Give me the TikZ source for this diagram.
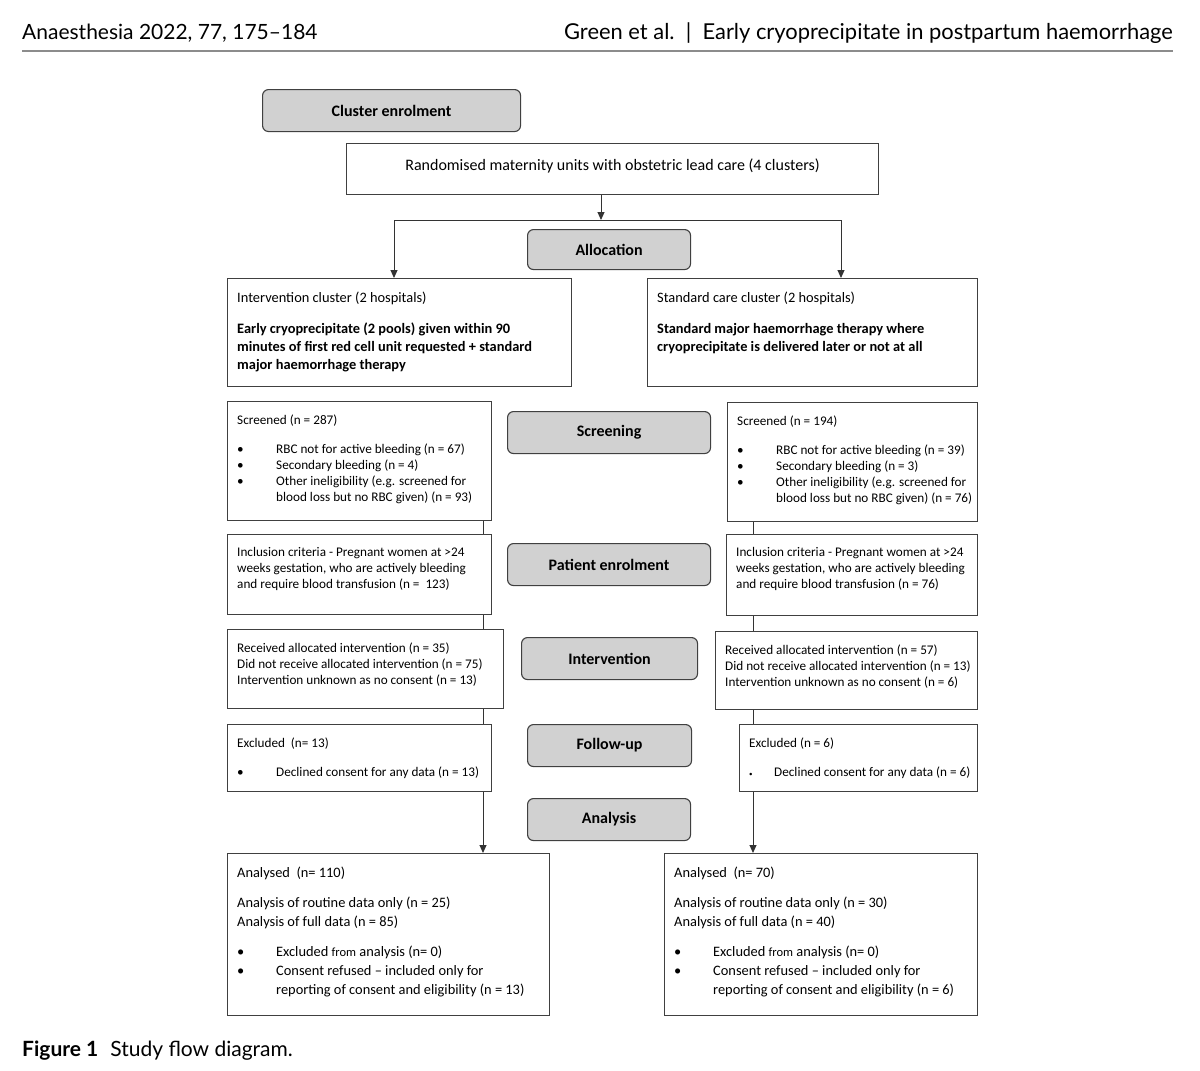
\documentclass[tikz,border=0pt]{standalone}
\usepackage{fontspec}
\setmainfont{Carlito}
\newfontfamily\headfont{Lato}
\usetikzlibrary{positioning, arrows.meta}

\newcommand{\bulitem}{\makebox[39pt][l]{\textbullet}}
\newcommand{\bulind}{\hspace*{39pt}}

\begin{document}
\begin{tikzpicture}
  [
    x=1pt, y=-1pt,
    Box/.style={draw=black!75, line width=1.1pt, anchor=north west, inner sep=0pt},
    Stage/.style={draw=black!75, line width=1.1pt, rounded corners=6pt, fill=black!18, anchor=north west, inner sep=0pt, font=\fontsize{16}{18}\selectfont\bfseries},
    Txt/.style={anchor=north west, align=left, inner xsep=10pt, inner ysep=13.5pt, font=\fontsize{13.2}{16}\selectfont},
    Arr/.style={draw=black!80, line width=1pt, -{Triangle[length=8pt, width=7pt]}},
    Line/.style={draw=black!80, line width=1pt}
  ]
  \useasboundingbox (0,0) rectangle (1200,1071);

  % Header and caption
  \node[font=\headfont\fontsize{21}{24}\selectfont, anchor=base west, inner sep=0pt] (journal) at (22,39) {Anaesthesia 2022, 77, 175–184};
  \node[font=\headfont\fontsize{21.9}{24}\selectfont, anchor=base east, inner sep=0pt] (running) at (1173,39) {Green et al.\ \ |\ \ Early cryoprecipitate in postpartum haemorrhage};
  \draw[black!45, line width=2pt] (22,51) -- (1173,51);
  \node[font=\headfont\fontsize{21}{24}\selectfont, anchor=base west, inner sep=0pt] (caption) at (22,1056) {\textbf{Figure 1}\hspace{12pt}Study flow diagram.};

  % Stages
  \node[Stage, minimum width=258, minimum height=42] (clusterenrol) at (262,89) {Cluster enrolment};
  \node[Stage, minimum width=163, minimum height=40] (allocation) at (527,229) {Allocation};
  \node[Stage, minimum width=203, minimum height=42] (screening) at (507,411) {Screening};
  \node[Stage, minimum width=203, minimum height=42] (patenrol) at (507,543) {Patient enrolment};
  \node[Stage, minimum width=176, minimum height=42] (intervention) at (521,637) {Intervention};
  \node[Stage, minimum width=164, minimum height=42] (followup) at (527,724) {Follow-up};
  \node[Stage, minimum width=163, minimum height=42] (analysis) at (527,798) {Analysis};

  % Randomisation
  \node[Box, minimum width=532, minimum height=51, font=\fontsize{16}{18}\selectfont] (randomised) at (346,143) {Randomised maternity units with obstetric lead care (4 clusters)\rule[-9pt]{0pt}{0pt}};

  % Clusters
  \node[Box, minimum width=344, minimum height=108, label={[Txt, font=\fontsize{14.4}{18}\selectfont]north west:{Intervention cluster (2 hospitals)\\[13pt]
    \textbf{Early cryoprecipitate (2 pools) given within 90}\\
    \textbf{minutes of first red cell unit requested + standard}\\
    \textbf{major haemorrhage therapy}}}] (intcluster) at (227,278) {};
  \node[Box, minimum width=330, minimum height=108, label={[Txt, font=\fontsize{14.4}{18}\selectfont]north west:{Standard care cluster (2 hospitals)\\[13pt]
    \textbf{Standard major haemorrhage therapy where}\\
    \textbf{cryoprecipitate is delivered later or not at all}}}] (stdcluster) at (647,278) {};

  % Left arm
  \node[Box, minimum width=264, minimum height=119, label={[Txt]north west:{Screened (n = 287)\\[13pt]
    \bulitem RBC not for active bleeding (n = 67)\\
    \bulitem Secondary bleeding (n = 4)\\
    \bulitem Other ineligibility (e.g. screened for\\
    \bulind blood loss but no RBC given) (n = 93)}}] (lscreen) at (227,401) {};
  \node[Box, minimum width=264, minimum height=80, label={[Txt]north west:{Inclusion criteria - Pregnant women at >24\\
    weeks gestation, who are actively bleeding\\
    and require blood transfusion (n =\ \ 123)}}] (lincl) at (227,534) {};
  \node[Box, minimum width=276, minimum height=79, label={[Txt]north west:{Received allocated intervention (n = 35)\\
    Did not receive allocated intervention (n = 75)\\
    Intervention unknown as no consent (n = 13)}}] (linterv) at (227,629) {};
  \node[Box, minimum width=264, minimum height=67, label={[Txt]north west:{Excluded\ \ (n= 13)\\[13pt]
    \bulitem Declined consent for any data (n = 13)}}] (lexcl) at (227,724) {};
  \node[Box, minimum width=322, minimum height=162, label={[Txt, font=\fontsize{14.4}{19}\selectfont]north west:{Analysed\ \ (n= 110)\\[11pt]
    Analysis of routine data only (n = 25)\\
    Analysis of full data (n = 85)\\[11pt]
    \bulitem Excluded {\fontsize{12.5}{19}\selectfont from} analysis (n= 0)\\
    \bulitem Consent refused – included only for\\
    \bulind reporting of consent and eligibility (n = 13)}}] (lanalysed) at (227,853) {};

  % Right arm
  \node[Box, minimum width=250, minimum height=119, label={[Txt]north west:{Screened (n = 194)\\[13pt]
    \bulitem RBC not for active bleeding (n = 39)\\
    \bulitem Secondary bleeding (n = 3)\\
    \bulitem Other ineligibility (e.g. screened for\\
    \bulind blood loss but no RBC given) (n = 76)}}] (rscreen) at (727,402) {};
  \node[Box, minimum width=251, minimum height=81, label={[Txt]north west:{Inclusion criteria - Pregnant women at >24\\
    weeks gestation, who are actively bleeding\\
    and require blood transfusion (n = 76)}}] (rincl) at (726,534) {};
  \node[Box, minimum width=262, minimum height=78, label={[Txt]north west:{Received allocated intervention (n = 57)\\
    Did not receive allocated intervention (n = 13)\\
    Intervention unknown as no consent (n = 6)}}] (rinterv) at (715,631) {};
  \node[Box, minimum width=238, minimum height=67, label={[Txt]north west:{Excluded (n = 6)\\[13pt]
    \makebox[25pt][l]{\scriptsize\textbullet}Declined consent for any data (n = 6)}}] (rexcl) at (739,724) {};
  \node[Box, minimum width=313, minimum height=162, label={[Txt, font=\fontsize{14.4}{19}\selectfont]north west:{Analysed\ \ (n= 70)\\[11pt]
    Analysis of routine data only (n = 30)\\
    Analysis of full data (n = 40)\\[11pt]
    \bulitem Excluded {\fontsize{12.5}{19}\selectfont from} analysis (n= 0)\\
    \bulitem Consent refused – included only for\\
    \bulind reporting of consent and eligibility (n = 6)}}] (ranalysed) at (664,853) {};

  % Connectors
  \coordinate (split) at (601,220);
  \coordinate (lsplit) at (394,220);
  \coordinate (rsplit) at (841,220);
  \coordinate (lcol) at (483,0);
  \coordinate (rcol) at (753,0);
  \draw[Arr] (randomised.south -| split) -- (split);
  \draw[Line] (lsplit) -- (rsplit);
  \draw[Arr] (lsplit) -- (lsplit |- intcluster.north);
  \draw[Arr] (rsplit) -- (rsplit |- stdcluster.north);
  \foreach \a/\b in {lscreen/lincl, lincl/linterv, linterv/lexcl}
    \draw[Line] (\a.south -| lcol) -- (\b.north -| lcol);
  \foreach \a/\b in {rscreen/rincl, rincl/rinterv, rinterv/rexcl}
    \draw[Line] (\a.south -| rcol) -- (\b.north -| rcol);
  \draw[Arr] (lexcl.south -| lcol) -- (lanalysed.north -| lcol);
  \draw[Arr] (rexcl.south -| rcol) -- (ranalysed.north -| rcol);

\end{tikzpicture}
\end{document}
